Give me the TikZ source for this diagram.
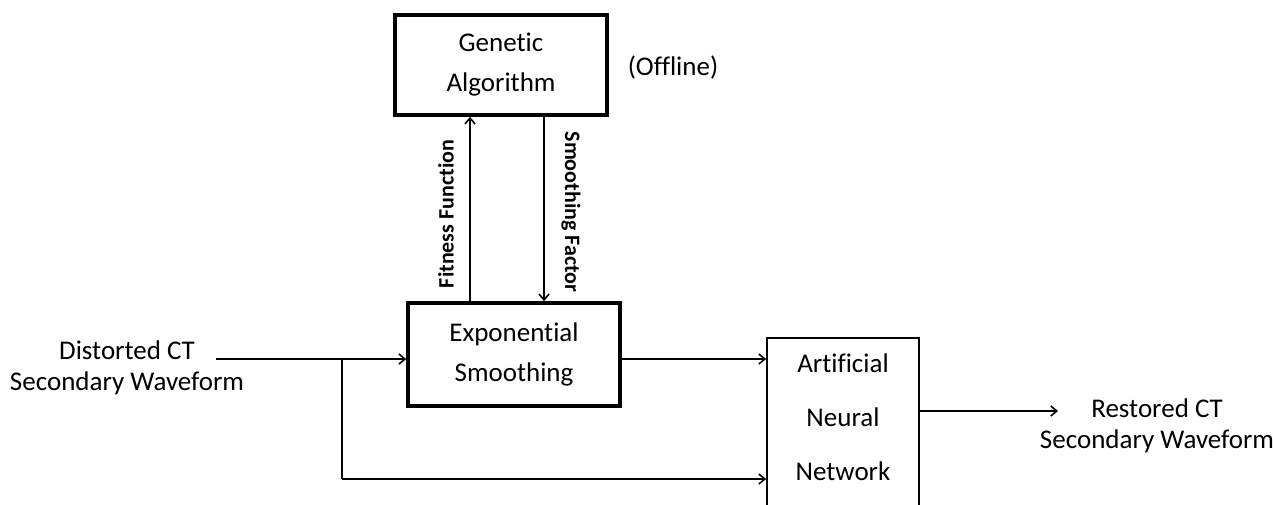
\documentclass[tikz,border=0pt]{standalone}
\usepackage{fontspec}
\setmainfont{Carlito}[Ligatures={NoCommon}]
\usetikzlibrary{arrows.meta}
\begin{document}
\begin{tikzpicture}[x=1pt,y=-1pt,
  thickbox/.style={draw, line width=3.5pt, align=center, inner sep=0pt, font=\fontsize{27}{40}\selectfont},
  thinbox/.style={draw, line width=1.8pt, align=center, inner sep=0pt},
  conn/.style={line width=1.6pt, -{Straight Barb[length=6pt,width=10pt,line width=1.6pt]}},
  plain/.style={line width=1.6pt},
  lbl/.style={align=center, inner sep=0pt, font=\fontsize{27}{31}\selectfont},
  vlbl/.style={inner sep=0pt, font=\fontsize{22}{24}\selectfont\bfseries}]
\useasboundingbox (0,0) rectangle (1273,504);
% boxes
\node[thickbox, minimum width=212pt, minimum height=100pt] (ga) at (501,65) {Genetic\\Algorithm};
\node[thickbox, minimum width=212pt, minimum height=103pt] (es) at (514,354.5) {Exponential\\Smoothing};
\node[thinbox, minimum width=152pt, minimum height=172pt] (ann) at (843,424) {};
\node[lbl] (t1) at (843,363) {Artificial};
\node[lbl] (t2) at (843,417) {Neural};
\node[lbl] (t3) at (843,471) {Network};
\node[lbl] (off) at (673,67) {(Offline)};
\node[lbl] (in) at (127,368) {Distorted CT\\Secondary Waveform};
\node[lbl] (out) at (1157,426) {Restored CT\\Secondary Waveform};
% coordinates
\coordinate (inS) at (216,359);
\coordinate (br) at (342,359);
\coordinate (brD) at (342,479);
\coordinate (annIn2) at (ann.west |- brD);
\coordinate (annIn1) at (ann.west |- 0,359);
\coordinate (outE) at (1058,411);
\coordinate (annOut) at (ann.east |- outE);
% feedback arrows
\draw[conn] (es.north -| 470,0) -- (ga.south -| 470,0);
\draw[conn] (ga.south -| 544,0) -- (es.north -| 544,0);
\node[vlbl, rotate=90] (ff) at (446,214) {Fitness Function};
\node[vlbl, rotate=-90] (sf) at (571,212) {Smoothing Factor};
% main flow
\draw[conn] (inS) -- (es.west |- inS);
\draw[plain] (br) -- (brD);
\draw[conn] (brD) -- (annIn2);
\draw[conn] (es.east |- annIn1) -- (annIn1);
\draw[conn] (annOut) -- (outE);
\end{tikzpicture}
\end{document}
